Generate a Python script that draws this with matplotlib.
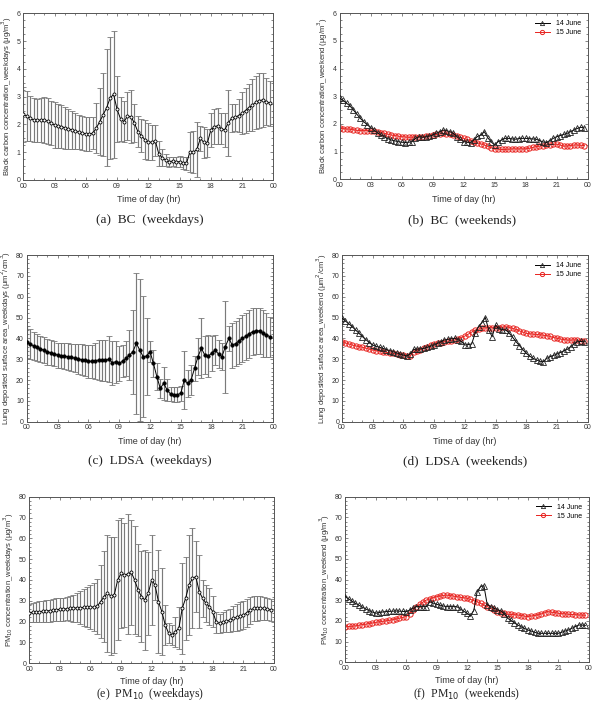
import numpy as np
import matplotlib
matplotlib.use("Agg")
import matplotlib.pyplot as plt
from matplotlib.ticker import MultipleLocator

# ---------------- data (20-min resolution, hours 0..23.67) ----------------
hours = np.arange(72) / 3.0
xtick_labels = ['00', '03', '06', '09', '12', '15', '18', '21', '00']

bc_wd_mean = [2.36, 2.30, 2.22, 2.16, 2.15, 2.16, 2.16, 2.12, 2.05, 1.98, 1.95, 1.92,
              1.88, 1.84, 1.80, 1.76, 1.72, 1.69, 1.66, 1.65, 1.68, 1.86, 2.10, 2.35,
              2.60, 2.95, 3.08, 2.55, 2.20, 2.10, 2.30, 2.28, 2.05, 1.74, 1.60, 1.45,
              1.38, 1.35, 1.42, 0.95, 0.80, 0.72, 0.66, 0.68, 0.65, 0.66, 0.62, 0.60,
              1.02, 1.00, 1.10, 1.50, 1.35, 1.32, 1.80, 1.92, 1.95, 1.85, 1.80, 2.05,
              2.22, 2.25, 2.32, 2.40, 2.50, 2.60, 2.70, 2.80, 2.86, 2.88, 2.82, 2.76]
bc_wd_sd = [0.98, 0.90, 0.80, 0.78, 0.78, 0.80, 0.82, 0.82, 0.80, 0.84, 0.80, 0.78,
            0.76, 0.72, 0.68, 0.64, 0.62, 0.60, 0.60, 0.60, 0.58, 0.90, 1.20, 1.50,
            2.10, 2.20, 2.30, 1.20, 0.80, 0.75, 0.85, 0.95, 0.70, 0.55, 0.60, 0.70,
            0.66, 0.62, 0.55, 0.45, 0.30, 0.20, 0.18, 0.16, 0.18, 0.20, 0.22, 0.24,
            0.72, 0.75, 1.00, 0.45, 0.55, 0.50, 0.60, 0.62, 0.65, 0.55, 0.60, 1.20,
            0.50, 0.50, 0.60, 0.75, 0.80, 0.85, 0.92, 0.96, 0.98, 0.98, 0.85, 0.80]

ldsa_wd_mean = [38.1, 37.2, 36.4, 35.7, 35.0, 34.3, 33.6, 33.1, 32.5, 32.0, 31.7, 31.5,
                31.2, 30.9, 30.5, 30.2, 29.8, 29.4, 29.0, 29.0, 29.3, 29.6, 29.5, 29.4,
                30.0, 28.3, 28.8, 28.0, 29.0, 30.4, 32.0, 33.5, 37.6, 34.4, 31.2, 31.5,
                33.6, 28.0, 21.6, 16.0, 18.4, 15.2, 13.3, 13.0, 13.0, 13.6, 20.0, 18.4,
                20.0, 25.6, 31.2, 35.2, 32.0, 31.5, 32.8, 34.4, 32.5, 31.2, 36.0, 40.0,
                36.8, 37.5, 38.8, 40.0, 41.0, 42.2, 43.2, 43.6, 43.6, 42.4, 41.6, 40.8]
ldsa_wd_sd = [7.6, 7.2, 6.8, 6.5, 6.3, 6.2, 6.2, 6.0, 6.0, 6.0, 6.0, 6.2,
              6.4, 6.6, 6.8, 7.2, 7.4, 7.6, 7.8, 8.0, 8.6, 9.5, 9.8, 10.0,
              11.0, 10.5, 10.0, 8.5, 7.6, 8.5, 12.0, 20.0, 34.0, 34.0, 29.0, 18.5,
              5.0, 6.5, 6.5, 4.5, 8.0, 5.5, 3.5, 3.5, 3.5, 3.6, 14.0, 6.5,
              7.0, 6.0, 8.8, 14.4, 9.0, 10.0, 8.5, 7.0, 6.5, 6.5, 22.0, 6.0,
              10.8, 11.0, 11.0, 11.2, 11.4, 11.5, 11.2, 11.0, 11.0, 11.2, 10.5, 9.6]

pm_wd_mean = [24.3, 24.5, 24.6, 24.8, 25.0, 25.1, 25.3, 25.5, 25.7, 25.9, 26.0, 26.2,
              26.4, 26.5, 26.6, 26.7, 26.8, 26.9, 27.0, 27.0, 27.5, 29.6, 32.0, 33.6,
              32.3, 32.8, 40.0, 43.2, 42.4, 42.9, 43.7, 40.0, 35.2, 32.0, 30.4, 33.6,
              40.0, 37.6, 29.6, 24.8, 18.4, 14.4, 13.6, 15.2, 16.8, 26.4, 31.2, 37.6,
              40.8, 41.6, 34.4, 31.2, 28.8, 27.2, 24.8, 19.7, 19.2, 20.0, 20.2, 20.6,
              21.6, 22.0, 22.6, 23.2, 24.2, 25.4, 26.4, 26.5, 26.5, 26.4, 26.0, 25.6]
pm_wd_sd = [4.3, 4.5, 4.6, 4.9, 5.0, 5.1, 5.3, 5.4, 5.5, 5.4, 5.5, 5.6,
            6.0, 6.5, 7.0, 8.0, 8.8, 9.5, 10.4, 11.5, 13.2, 17.5, 22.0, 28.0,
            28.5, 28.0, 29.0, 26.4, 24.8, 29.0, 25.2, 26.0, 22.0, 22.0, 24.0, 20.0,
            21.6, 7.0, 24.8, 20.8, 9.6, 4.8, 5.0, 7.2, 10.0, 22.0, 20.0, 24.0,
            24.0, 17.0, 17.6, 9.0, 8.8, 9.0, 7.6, 5.0, 4.6, 4.8, 5.2, 5.6,
            6.0, 6.4, 6.7, 6.8, 6.6, 6.3, 6.0, 6.0, 5.8, 5.6, 5.3, 5.1]

bc_we_14 = [2.93, 2.85, 2.75, 2.65, 2.50, 2.35, 2.20, 2.08, 1.97, 1.87, 1.78, 1.68,
            1.60, 1.53, 1.47, 1.42, 1.39, 1.36, 1.34, 1.33, 1.34, 1.36, 1.48, 1.54,
            1.52, 1.53, 1.56, 1.60, 1.66, 1.72, 1.78, 1.76, 1.72, 1.66, 1.54, 1.45,
            1.36, 1.34, 1.33, 1.42, 1.55, 1.60, 1.72, 1.50, 1.35, 1.24, 1.36, 1.42,
            1.48, 1.48, 1.46, 1.45, 1.47, 1.48, 1.48, 1.47, 1.46, 1.45, 1.40, 1.35,
            1.33, 1.40, 1.48, 1.54, 1.58, 1.62, 1.66, 1.72, 1.78, 1.84, 1.88, 1.86]
bc_we_15 = [1.84, 1.83, 1.82, 1.81, 1.79, 1.77, 1.76, 1.76, 1.76, 1.76, 1.74, 1.71,
            1.69, 1.66, 1.63, 1.60, 1.58, 1.56, 1.54, 1.53, 1.52, 1.52, 1.53, 1.53,
            1.54, 1.56, 1.58, 1.60, 1.62, 1.64, 1.66, 1.65, 1.63, 1.60, 1.56, 1.52,
            1.48, 1.44, 1.40, 1.36, 1.32, 1.28, 1.24, 1.19, 1.14, 1.10, 1.09, 1.08,
            1.08, 1.09, 1.10, 1.10, 1.10, 1.10, 1.10, 1.12, 1.15, 1.18, 1.20, 1.22,
            1.24, 1.25, 1.26, 1.27, 1.24, 1.20, 1.20, 1.22, 1.24, 1.24, 1.23, 1.22]

ldsa_we_14 = [49.6, 48.3, 47.0, 45.6, 44.0, 42.4, 40.8, 39.4, 38.0, 36.8, 36.2, 35.7,
              35.2, 34.6, 34.1, 33.6, 33.0, 32.5, 32.0, 31.5, 32.5, 34.7, 34.8, 35.0,
              35.2, 35.7, 36.2, 36.8, 37.6, 38.4, 39.2, 39.5, 39.8, 40.0, 39.4, 38.5,
              36.8, 37.0, 37.3, 42.4, 45.6, 47.5, 50.0, 44.0, 40.8, 46.4, 44.5, 44.2,
              44.0, 42.5, 40.5, 38.4, 36.5, 34.6, 32.8, 31.5, 30.4, 29.6, 29.0, 28.8,
              30.4, 31.2, 31.8, 32.5, 33.2, 34.0, 34.7, 36.0, 37.2, 38.4, 38.5, 38.4]
ldsa_we_15 = [38.4, 37.8, 37.3, 36.8, 36.4, 36.0, 35.7, 35.3, 34.8, 34.4, 34.1, 33.8,
              33.6, 33.3, 33.0, 32.8, 32.5, 32.2, 32.0, 31.6, 31.5, 33.6, 34.1, 34.6,
              35.2, 35.9, 36.6, 37.3, 37.7, 38.0, 38.4, 38.7, 38.9, 39.2, 39.8, 40.4,
              41.1, 42.0, 43.0, 44.0, 44.4, 44.8, 45.1, 45.1, 45.1, 45.1, 45.2, 45.4,
              45.6, 45.2, 44.8, 44.3, 43.6, 43.0, 42.4, 42.2, 42.0, 41.9, 41.7, 41.5,
              41.3, 40.9, 40.4, 40.0, 39.7, 39.4, 39.2, 39.2, 39.2, 39.2, 38.9, 38.6]

pm_we_14 = [31.7, 30.6, 29.5, 28.5, 27.6, 26.7, 25.8, 25.0, 24.3, 23.7, 24.0, 24.3,
            24.5, 24.6, 24.7, 24.8, 24.7, 24.6, 24.5, 25.2, 26.0, 26.9, 26.9, 26.9,
            26.9, 29.3, 28.6, 28.0, 27.6, 27.2, 26.9, 26.9, 26.9, 26.9, 25.8, 24.7,
            23.7, 22.5, 25.0, 34.1, 36.6, 37.0, 27.7, 26.9, 26.1, 25.3, 24.9, 23.5,
            21.3, 20.2, 19.1, 18.0, 17.2, 16.4, 15.6, 15.1, 14.5, 14.0, 14.0, 14.0,
            14.0, 14.0, 14.0, 14.0, 14.5, 15.1, 15.6, 16.4, 17.2, 18.0, 18.0, 17.8]
pm_we_15 = [17.2, 17.3, 17.4, 17.6, 17.9, 18.2, 18.4, 18.7, 19.0, 19.3, 19.5, 19.8,
            20.0, 20.3, 20.6, 20.9, 21.3, 21.7, 22.1, 23.5, 25.3, 26.9, 28.0, 29.1,
            30.1, 30.6, 31.2, 31.7, 32.0, 32.3, 32.5, 32.2, 32.0, 31.7, 31.4, 31.2,
            30.9, 30.4, 29.8, 29.3, 28.5, 27.7, 26.9, 26.1, 25.3, 24.5, 24.0, 23.6,
            23.2, 23.1, 23.0, 22.9, 22.6, 22.3, 22.1, 22.4, 22.6, 22.9, 23.4, 24.0,
            24.5, 24.2, 24.0, 23.7, 23.5, 23.4, 23.2, 23.1, 23.0, 22.9, 22.8, 22.7]

# ---------------- figure ----------------
W, H = 594, 703
fig = plt.figure(figsize=(W / 100, H / 100), dpi=100)
plt.rcParams['font.family'] = ['Liberation Sans', 'DejaVu Sans']


def ax_px(l, t, r, b):
    return fig.add_axes([l / W, 1 - b / H, (r - l) / W, (b - t) / H])


def style(ax, ymax, ystep, yminor, ylabel, xpad=4):
    ax.set_xlim(0, 24)
    ax.set_ylim(0, ymax)
    ax.set_xticks(np.arange(0, 25, 3))
    ax.set_xticklabels(xtick_labels)
    ax.xaxis.set_minor_locator(MultipleLocator(1))
    ax.set_yticks(np.arange(0, ymax + ystep / 2, ystep))
    ax.yaxis.set_minor_locator(MultipleLocator(yminor))
    ax.tick_params(which='both', direction='in', top=True, right=True,
                   labelsize=5, color='#555555', labelcolor='#333333', pad=2)
    ax.tick_params(which='major', length=2.5, width=0.5)
    ax.tick_params(which='minor', length=1.5, width=0.5)
    for s in ax.spines.values():
        s.set_linewidth(0.7)
        s.set_color('#555555')
    ax.set_xlabel('Time of day (hr)', fontsize=6.5, color='#333333', labelpad=xpad)
    ax.set_ylabel(ylabel, fontsize=5.5, color='#333333', labelpad=2)


def weekday(ax, mean, sd, marker, mfc, ms):
    _, caps, bars = ax.errorbar(hours, mean, yerr=sd, fmt='none', ecolor='#7a7a7a',
                                elinewidth=0.85, capsize=2, capthick=0.6)
    for c in caps:
        c.set_color('#333333')
    ax.plot(hours, mean, color='black', lw=0.7, marker=marker, ms=ms,
            mfc=mfc, mec='black', mew=0.6, zorder=3)


def weekend(ax, s14, s15):
    ax.plot(hours, s14, color='black', lw=0.7, marker='^', ms=3.8, mfc='none',
            mec='#222222', mew=0.6, label='14 June', zorder=3)
    ax.plot(hours, s15, color='#e8231f', lw=0.7, marker='o', ms=3.8, mfc='none',
            mec='#e8231f', mew=0.7, label='15 June', zorder=2)
    ax.legend(loc='upper right', frameon=False, fontsize=5, handlelength=2.2,
              markerscale=0.8, borderaxespad=0.6, labelspacing=0.3)


cap_font = dict(family=['Liberation Serif', 'DejaVu Serif'], fontsize=9.5, color='#222222')
cap_font_low = dict(family=['Liberation Serif', 'DejaVu Serif'], fontsize=8.5, color='#222222')

# (a)
ax = ax_px(23.3, 13.3, 273.3, 180)
weekday(ax, bc_wd_mean, bc_wd_sd, 'o', 'white', 2.2)
style(ax, 6, 1, 0.25, 'Black carbon concentration_weekdays (μg/m$^3$)')
fig.text(150 / W, 1 - 220 / H, '(a)  BC  (weekdays)', ha='center', va='center', **cap_font)

# (b)
ax = ax_px(339.7, 13.3, 587.7, 179.3)
weekend(ax, bc_we_14, bc_we_15)
style(ax, 6, 1, 0.25, 'Black carbon concentration_weekend (μg/m$^3$)')
fig.text(462 / W, 1 - 220 / H, '(b)  BC  (weekends)', ha='center', va='center', **cap_font)

# (c)
ax = ax_px(26.7, 255, 273.3, 421.7)
weekday(ax, ldsa_wd_mean, ldsa_wd_sd, 'o', 'black', 2.4)
style(ax, 80, 10, 2, 'Lung deposited surface area_weekdays (μm$^2$/cm$^3$)')
fig.text(150 / W, 1 - 461 / H, '(c)  LDSA  (weekdays)', ha='center', va='center', **cap_font)

# (d)
ax = ax_px(342, 255, 587.7, 421.7)
weekend(ax, ldsa_we_14, ldsa_we_15)
style(ax, 80, 10, 2, 'Lung deposited surface area_weekend (μm$^2$/cm$^3$)')
fig.text(465 / W, 1 - 461 / H, '(d)  LDSA  (weekends)', ha='center', va='center', **cap_font)

# (e)
ax = ax_px(29.3, 496.7, 274, 663.3)
weekday(ax, pm_wd_mean, pm_wd_sd, 'o', 'white', 2.2)
style(ax, 80, 10, 2, 'PM$_{10}$ concentration_weekdays (μg/m$^3$)', xpad=2.5)
fig.text(150 / W, 0.5 / H, '(e)  PM$_{10}$  (weekdays)', ha='center', va='bottom', **cap_font_low)

# (f)
ax = ax_px(345.3, 496.7, 588.7, 662.3)
weekend(ax, pm_we_14, pm_we_15)
style(ax, 80, 10, 2, 'PM$_{10}$ concentration_weekend (μg/m$^3$)', xpad=2.5)
fig.text(466 / W, 0.5 / H, '(f)  PM$_{10}$  (weekends)', ha='center', va='bottom', **cap_font_low)

fig.savefig('out.png', dpi=100)
